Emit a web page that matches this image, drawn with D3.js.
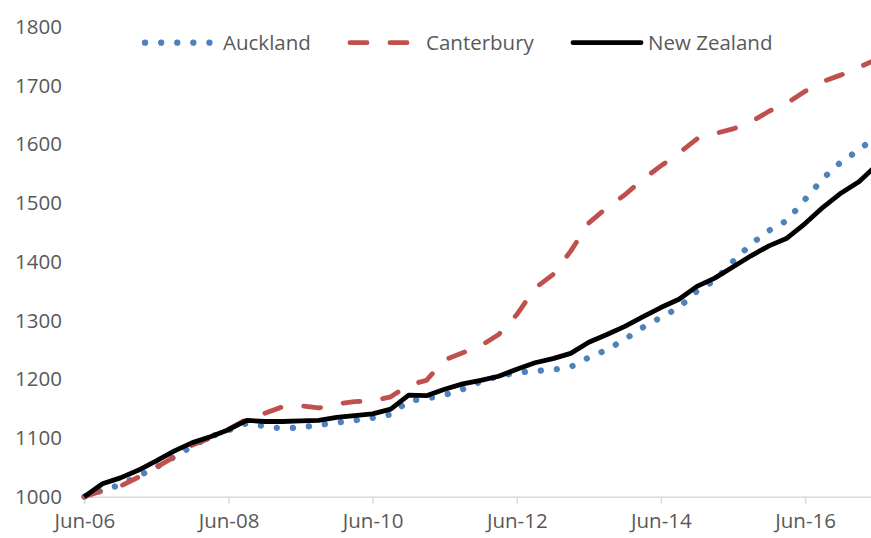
<!DOCTYPE html>
<html>
<head>
<meta charset="utf-8">
<script src="https://cdn.jsdelivr.net/npm/d3@7"></script>
<style>
  body { margin: 0; background: #fff; }
  text { font-family: "Open Sans", sans-serif; fill: #595959; }
</style>
</head>
<body>
<div id="viz"></div>
<script>
// quarterly index, Jun-06 = 1000
const quarters = [
  '2006-06', '2006-09', '2006-12', '2007-03', '2007-06', '2007-09', '2007-12', '2008-03',
  '2008-06', '2008-09', '2008-12', '2009-03', '2009-06', '2009-09', '2009-12', '2010-03',
  '2010-06', '2010-09', '2010-12', '2011-03', '2011-06', '2011-09', '2011-12', '2012-03',
  '2012-06', '2012-09', '2012-12', '2013-03', '2013-06', '2013-09', '2013-12', '2014-03',
  '2014-06', '2014-09', '2014-12', '2015-03', '2015-06', '2015-09', '2015-12', '2016-03',
  '2016-06', '2016-09', '2016-12', '2017-03', '2017-06'
];
const auckland = [
  1000, 1011, 1020, 1035, 1050, 1068, 1086, 1102,
  1113, 1125, 1120, 1116, 1118, 1122, 1126, 1130,
  1134, 1140, 1163, 1167, 1173, 1183, 1196, 1205,
  1211, 1214, 1216, 1221, 1237, 1250, 1268, 1288,
  1305, 1322, 1350, 1368, 1400, 1430, 1453, 1470,
  1506, 1542, 1570, 1590, 1615
];
const canterbury = [
  1000, 1010, 1018, 1033, 1050, 1068, 1088, 1100,
  1115, 1132, 1142, 1153, 1155, 1151, 1158, 1162,
  1163, 1170, 1190, 1198, 1233, 1245, 1257, 1276,
  1310, 1355, 1378, 1418, 1466, 1492, 1514, 1540,
  1563, 1585, 1609, 1618, 1626, 1638, 1656, 1670,
  1690, 1707, 1718, 1731, 1745
];
const newZealand = [
  1000, 1022, 1032, 1045, 1061, 1078, 1092, 1102,
  1114, 1130, 1128, 1128, 1129, 1130, 1135, 1138,
  1141, 1149, 1173, 1172, 1183, 1192, 1198, 1205,
  1217, 1228, 1235, 1244, 1263, 1276, 1290, 1306,
  1322, 1336, 1358, 1372, 1391, 1410, 1427, 1440,
  1465, 1493, 1517, 1536, 1565
];
const xTicks = ['2006-06', '2008-06', '2010-06', '2012-06', '2014-06', '2016-06'];
const yTicks = [1000, 1100, 1200, 1300, 1400, 1500, 1600, 1700, 1800];

const parse = d3.timeParse('%Y-%m');
const width = 871;
const height = 538;

const svg = d3.select('#viz')
  .append('svg')
  .attr('width', width)
  .attr('height', height);

const x = d3.scaleTime()
  .domain([parse('2006-06'), parse('2017-05')])
  .range([84.3, 871]);

const y = d3.scaleLinear()
  .domain([1000, 1800])
  .range([496.7, 26.7]);

// X AXIS
const xAxis = svg.append('g')
  .attr('transform', `translate(0,${y(1000)})`)
  .call(d3.axisBottom(x)
    .tickValues(xTicks.map(parse))
    .tickFormat(d3.timeFormat('%b-%y'))
    .tickSize(7)
    .tickSizeOuter(0)
    .tickPadding(10));
xAxis.select('.domain').attr('stroke', '#d9d9d9').attr('stroke-width', 1.5);
xAxis.selectAll('.tick line').attr('stroke', '#d9d9d9').attr('stroke-width', 1.5);
xAxis.selectAll('.tick text')
  .attr('font-size', '20.5px')
  .attr('fill', '#595959')
  .style('font-family', '"Open Sans", sans-serif');

// Y AXIS (labels only)
const yAxis = svg.append('g')
  .attr('transform', 'translate(62,0)')
  .call(d3.axisLeft(y).tickValues(yTicks).tickFormat(d3.format('d')).tickSize(0).tickPadding(0));
yAxis.select('.domain').remove();
yAxis.selectAll('.tick text')
  .attr('font-size', '20.5px')
  .attr('fill', '#595959')
  .style('font-family', '"Open Sans", sans-serif');

// LINES
const series = [
  { name: 'Auckland', values: auckland, color: '#4f81bd', width: 6.2, dash: '0.1,16' },
  { name: 'Canterbury', values: canterbury, color: '#c0504d', width: 4.8, dash: '17,23' },
  { name: 'New Zealand', values: newZealand, color: '#000000', width: 4.8, dash: null }
];

const line = d3.line()
  .x((d, i) => x(parse(quarters[i])))
  .y(d => y(d));

series.forEach(s => {
  svg.append('path')
    .datum(s.values)
    .attr('d', line)
    .attr('fill', 'none')
    .attr('stroke', s.color)
    .attr('stroke-width', s.width)
    .attr('stroke-linecap', s.dash ? 'round' : 'butt')
    .attr('stroke-linejoin', 'round')
    .attr('stroke-dasharray', s.dash);
});

// LEGEND
const legend = [
  { x1: 145, x2: 218, tx: 223 },
  { x1: 350, x2: 411, tx: 426 },
  { x1: 573, x2: 641, tx: 648 }
];
legend.forEach((l, i) => {
  const s = series[i];
  svg.append('line')
    .attr('x1', l.x1).attr('x2', l.x2)
    .attr('y1', 42.7).attr('y2', 42.7)
    .attr('stroke', s.color)
    .attr('stroke-width', s.width)
    .attr('stroke-linecap', 'round')
    .attr('stroke-dasharray', s.dash);
  svg.append('text')
    .attr('x', l.tx)
    .attr('y', 42.7)
    .attr('dy', '0.35em')
    .attr('font-size', '20.5px')
    .text(s.name);
});
</script>
</body>
</html>
